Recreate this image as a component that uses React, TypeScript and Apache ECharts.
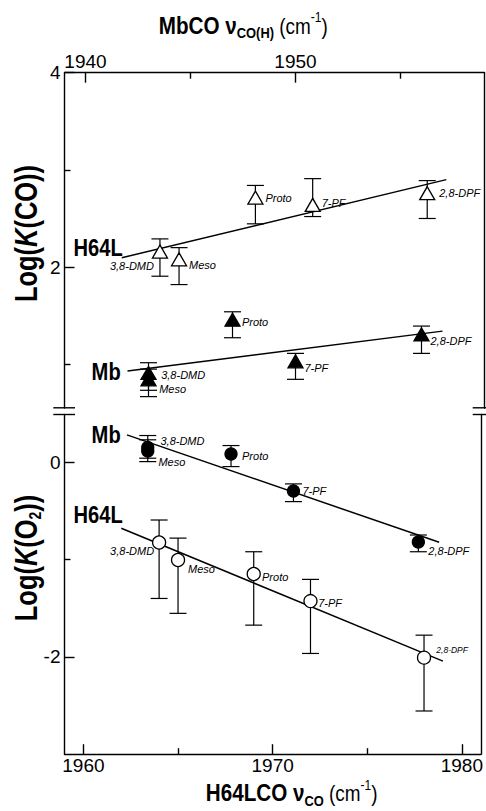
import React, { useEffect, useRef } from 'react';
import * as echarts from 'echarts';

// ---------- data ----------
const pigments = ['3,8-DMD', 'Meso', 'Proto', '7-PF', '2,8-DPF'];
const mbFreq = [1943, 1943, 1947, 1950, 1956]; // MbCO ν_CO(H), top axis
const h64lFreq = [1964, 1965, 1969, 1972, 1978]; // H64LCO ν_CO, bottom axis

const mbLogKCO = [0.91, 0.845, 1.458, 1.03, 1.307];
const mbLogKCOLow = [0.732, 0.667, 1.273, 0.845, 1.112];
const mbLogKCOHigh = [1.016, 0.95, 1.54, 1.112, 1.393];

const h64lLogKCO = [2.16, 2.08, 2.715, 2.64, 2.76];
const h64lLogKCOLow = [1.906, 1.82, 2.445, 2.52, 2.5];
const h64lLogKCOHigh = [2.29, 2.2, 2.84, 2.91, 2.89];

const mbLogKO2 = [0.152, 0.116, 0.085, -0.295, -0.82];
const mbLogKO2Low = [0.041, 0.006, -0.045, -0.405, -0.92];
const mbLogKO2High = [0.274, 0.23, 0.171, -0.223, -0.748];

const h64lLogKO2 = [-0.825, -1.005, -1.149, -1.427, -2.008];
const h64lLogKO2Low = [-1.4, -1.553, -1.674, -1.965, -2.556];
const h64lLogKO2High = [-0.594, -0.78, -0.92, -1.204, -1.777];

const h64lCOFitX = [1962, 1979];
const h64lCOFitY = [2.096, 2.9];
const mbCOFitX = [1942, 1957];
const mbCOFitY = [0.93, 1.341];
const mbO2FitX = [1942, 1957];
const mbO2FitY = [0.281, -0.823];
const h64lO2FitX = [1962, 1979];
const h64lO2FitY = [-0.679, -2.044];

const topXMajor = [1940, 1950];
const topXMinor = [1945, 1955];
const bottomXMajor = [1960, 1970, 1980];
const bottomXMinor = [1965, 1975];
const coYMajor = [2, 4];
const coYMinor = [1, 3];
const o2YMajor = [0, -2];
const o2YMinor = [-1];

// ---------- styles ----------
const FONT = '"Liberation Sans", Arial, Helvetica, sans-serif';

type Place = { align: 'left' | 'right'; dx: number; dy: number; size?: number };
const h64lCOPlace: Place[] = [
  { align: 'right', dx: -6, dy: 14 },
  { align: 'left', dx: 10, dy: 6 },
  { align: 'left', dx: 10, dy: 0 },
  { align: 'left', dx: 9, dy: -1.5 },
  { align: 'left', dx: 12, dy: 0 },
];
const mbCOPlace: Place[] = [
  { align: 'left', dx: 12.7, dy: 2.3 },
  { align: 'left', dx: 10.7, dy: 10 },
  { align: 'left', dx: 9.4, dy: 2 },
  { align: 'left', dx: 9, dy: 7 },
  { align: 'left', dx: 9, dy: 7 },
];
const mbO2Place: Place[] = [
  { align: 'left', dx: 12.7, dy: -6 },
  { align: 'left', dx: 10.7, dy: 11 },
  { align: 'left', dx: 11, dy: 2 },
  { align: 'left', dx: 9, dy: 0 },
  { align: 'left', dx: 10, dy: 9 },
];
const h64lO2Place: Place[] = [
  { align: 'right', dx: -5, dy: 9 },
  { align: 'left', dx: 10, dy: 9 },
  { align: 'left', dx: 8.3, dy: 3.3 },
  { align: 'left', dx: 7.7, dy: 2.3 },
  { align: 'left', dx: 12.3, dy: -8, size: 8.5 },
];

const BLACK = '#000';
const lineStyle = { color: BLACK, width: 1.4 };
const plainNum = (v: number) => String(v);

function buildOption() {
  const noSplit = { show: false };
  const majorX = (gridIndex: number, position: string, min: number, max: number, vals: number[]) => ({
    type: 'value', gridIndex, position, min, max,
    axisLine: { show: true, onZero: false, lineStyle },
    axisTick: { show: true, inside: true, length: 10, customValues: vals, lineStyle },
    axisLabel: { show: true, customValues: vals, formatter: plainNum, fontSize: 19, color: BLACK, fontFamily: FONT, margin: 2 },
    splitLine: noSplit,
  });
  const minorX = (gridIndex: number, position: string, min: number, max: number, vals: number[]) => ({
    type: 'value', gridIndex, position, min, max,
    axisLine: { show: false, onZero: false },
    axisTick: { show: true, inside: true, length: 6, customValues: vals, lineStyle },
    axisLabel: { show: false },
    splitLine: noSplit,
  });
  const hidden = (gridIndex: number, min: number, max: number) => ({
    type: 'value', gridIndex, min, max, show: false, splitLine: noSplit,
  });
  const majorY = (gridIndex: number, min: number, max: number, vals: number[]) => ({
    type: 'value', gridIndex, position: 'left', min, max,
    axisLine: { show: true, onZero: false, lineStyle },
    axisTick: { show: true, inside: true, length: 10, customValues: vals, lineStyle },
    axisLabel: { show: true, customValues: vals, formatter: plainNum, fontSize: 19, color: BLACK, fontFamily: FONT, margin: 4 },
    splitLine: noSplit,
  });
  const minorY = (gridIndex: number, min: number, max: number, vals: number[]) => ({
    type: 'value', gridIndex, position: 'left', min, max,
    axisLine: { show: false, onZero: false },
    axisTick: { show: true, inside: true, length: 6, customValues: vals, lineStyle },
    axisLabel: { show: false },
    splitLine: noSplit,
  });
  const rightY = (gridIndex: number, min: number, max: number) => ({
    type: 'value', gridIndex, position: 'right', min, max,
    axisLine: { show: true, onZero: false, lineStyle },
    axisTick: { show: false },
    axisLabel: { show: false },
    splitLine: noSplit,
  });

  const fitLine = (xs: number[], ys: number[], xAxisIndex: number, yAxisIndex: number) => ({
    type: 'line', xAxisIndex, yAxisIndex, z: 2, silent: true,
    symbol: 'none', data: xs.map((x, i) => [x, ys[i]]),
    lineStyle: { color: BLACK, width: 1.5 },
  });

  const errorBars = (xs: number[], lo: number[], hi: number[], xAxisIndex: number, yAxisIndex: number) => ({
    type: 'custom', xAxisIndex, yAxisIndex, z: 3, silent: true,
    data: xs.map((x, i) => [x, lo[i], hi[i]]),
    encode: { x: 0, y: [1, 2] },
    renderItem: (_p: any, api: any) => {
      const x = api.value(0);
      const top = api.coord([x, api.value(2)]);
      const bot = api.coord([x, api.value(1)]);
      const hw = 8.5;
      const st = { stroke: BLACK, lineWidth: 1.2, fill: 'none' };
      return {
        type: 'group',
        children: [
          { type: 'line', shape: { x1: top[0], y1: top[1], x2: bot[0], y2: bot[1] }, style: st },
          { type: 'line', shape: { x1: top[0] - hw, y1: top[1], x2: top[0] + hw, y2: top[1] }, style: st },
          { type: 'line', shape: { x1: bot[0] - hw, y1: bot[1], x2: bot[0] + hw, y2: bot[1] }, style: st },
        ],
      };
    },
  });

  const points = (
    xs: number[], ys: number[], places: Place[], xAxisIndex: number, yAxisIndex: number,
    symbol: string, symbolSize: any, filled: boolean,
  ) => ({
    type: 'scatter', xAxisIndex, yAxisIndex, z: 4, silent: true,
    symbol, symbolSize,
    itemStyle: { color: filled ? BLACK : '#fff', borderColor: BLACK, borderWidth: 1.3, opacity: 1 },
    data: xs.map((x, i) => ({
      name: pigments[i],
      value: [x, ys[i]],
      label: {
        show: true, position: 'inside', align: places[i].align, verticalAlign: 'middle',
        offset: [places[i].dx, places[i].dy], formatter: pigments[i],
        fontSize: places[i].size ?? 11, fontStyle: 'italic', fontFamily: FONT, color: BLACK,
      },
    })),
  });

  const groupLabel = (x: number, y: number, text: string) => ({
    type: 'text', x, y, scaleX: 0.84,
    style: { text, align: 'right', verticalAlign: 'middle', fontSize: 24, fontFamily: FONT, fontWeight: 'bold', fill: BLACK },
  });

  const xTitleRich = {
    b: { fontSize: 24, lineHeight: 30, fontFamily: FONT, fontWeight: 'bold', fill: BLACK },
    bs: { fontSize: 15, lineHeight: 12, verticalAlign: 'bottom', fontFamily: FONT, fontWeight: 'bold', fill: BLACK },
    r: { fontSize: 22, lineHeight: 30, fontFamily: FONT, fill: BLACK },
    sup: { fontSize: 14, lineHeight: 22, verticalAlign: 'top', fontFamily: FONT, fill: BLACK },
  };
  const yTitleRich = {
    b: { fontSize: 31, lineHeight: 36, fontFamily: FONT, fontWeight: 'bold', fill: BLACK },
    bi: { fontSize: 31, lineHeight: 36, fontFamily: FONT, fontWeight: 'bold', fontStyle: 'italic', fill: BLACK },
    bs: { fontSize: 17, lineHeight: 18, verticalAlign: 'bottom', fontFamily: FONT, fontWeight: 'bold', fill: BLACK },
  };
  const brk = (x1: number, x2: number, y: number) => ({
    type: 'line', shape: { x1, y1: y, x2, y2: y }, style: { stroke: BLACK, lineWidth: 1.4 },
  });

  return {
    animation: false,
    backgroundColor: '#fff',
    grid: [
      { left: 64.5, right: 1.5, top: 72.7, height: 335.3 },
      { left: 64.5, right: 1.5, top: 414.5, height: 339.7 },
    ],
    xAxis: [
      majorX(0, 'top', 1939, 1959, topXMajor),
      hidden(0, 1959, 1981),
      majorX(1, 'bottom', 1959, 1981, bottomXMajor),
      hidden(1, 1939, 1959),
      minorX(0, 'top', 1939, 1959, topXMinor),
      minorX(1, 'bottom', 1959, 1981, bottomXMinor),
    ],
    yAxis: [
      majorY(0, 0.55, 4, coYMajor),
      minorY(0, 0.55, 4, coYMinor),
      rightY(0, 0.55, 4),
      majorY(1, -3, 0.49, o2YMajor),
      minorY(1, -3, 0.49, o2YMinor),
      rightY(1, -3, 0.49),
    ],
    series: [
      fitLine(h64lCOFitX, h64lCOFitY, 1, 0),
      fitLine(mbCOFitX, mbCOFitY, 0, 0),
      fitLine(mbO2FitX, mbO2FitY, 3, 3),
      fitLine(h64lO2FitX, h64lO2FitY, 2, 3),
      errorBars(h64lFreq, h64lLogKCOLow, h64lLogKCOHigh, 1, 0),
      errorBars(mbFreq, mbLogKCOLow, mbLogKCOHigh, 0, 0),
      errorBars(mbFreq, mbLogKO2Low, mbLogKO2High, 3, 3),
      errorBars(h64lFreq, h64lLogKO2Low, h64lLogKO2High, 2, 3),
      points(h64lFreq, h64lLogKCO, h64lCOPlace, 1, 0, 'triangle', [15, 13], false),
      points(mbFreq, mbLogKCO, mbCOPlace, 0, 0, 'triangle', [15, 13], true),
      points(mbFreq, mbLogKO2, mbO2Place, 3, 3, 'circle', 12, true),
      points(h64lFreq, h64lLogKO2, h64lO2Place, 2, 3, 'circle', 13, false),
    ],
    graphic: [
      // axis break marks
      brk(53.3, 75, 407.8),
      brk(53.3, 75, 414.5),
      brk(472.7, 486, 407.8),
      brk(472.7, 486, 414.5),
      // group labels
      groupLabel(122.7, 248, 'H64L'),
      groupLabel(120.7, 371.7, 'Mb'),
      groupLabel(120.7, 435, 'Mb'),
      groupLabel(122.7, 515, 'H64L'),
      // top axis title
      {
        type: 'text', x: 243.3, y: 25.6, scaleX: 0.86,
        style: { text: '{b|MbCO ν}{bs|CO(H)}{r| (cm}{sup|-1}{r|)}', align: 'center', verticalAlign: 'middle', rich: xTitleRich },
      },
      // bottom axis title
      {
        type: 'text', x: 291.7, y: 793, scaleX: 0.86,
        style: { text: '{b|H64LCO ν}{bs|CO}{r| (cm}{sup|-1}{r|)}', align: 'center', verticalAlign: 'middle', rich: xTitleRich },
      },
      // y titles
      {
        type: 'text', x: 26, y: 233.5, rotation: Math.PI / 2, scaleX: 0.82,
        style: { text: '{b|Log(}{bi|K}{b|(CO))}', align: 'center', verticalAlign: 'middle', rich: yTitleRich },
      },
      {
        type: 'text', x: 26, y: 558, rotation: Math.PI / 2, scaleX: 0.82,
        style: { text: '{b|Log(}{bi|K}{b|(O}{bs|2}{b|))}', align: 'center', verticalAlign: 'middle', rich: yTitleRich },
      },
    ],
  };
}

export default function App() {
  const ref = useRef<HTMLDivElement>(null);
  useEffect(() => {
    if (!ref.current) return;
    const chart = echarts.init(ref.current, null, { renderer: 'svg' });
    chart.setOption(buildOption() as any);
    return () => chart.dispose();
  }, []);
  return (
    <div
      ref={ref}
      style={{ position: 'absolute', left: 0, top: 0, width: 486, height: 811, background: '#fff' }}
    />
  );
}
